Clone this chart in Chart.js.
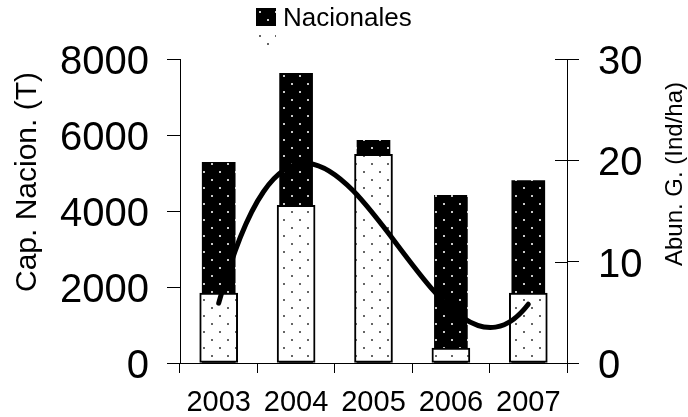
<!DOCTYPE html>
<html>
<head>
<meta charset="utf-8">
<script src="https://cdn.jsdelivr.net/npm/chart.js@4.4.1/dist/chart.umd.min.js"></script>
<style>
  html, body { margin: 0; padding: 0; background: #fff; }
  #wrap { position: relative; width: 688px; height: 417px; }
  #legend { position: absolute; left: 256px; top: 5px; font-family: 'Liberation Sans', Arial, sans-serif; font-size: 26px; color: #000; }
  .item { display: flex; align-items: center; height: 24px; white-space: nowrap; }
  .item canvas { width: 20px; height: 18px; margin-right: 7px; }
</style>
</head>
<body>
<div id="wrap">
  <canvas id="chart" width="688" height="417"></canvas>
  <div id="legend"></div>
</div>
<script>
// values
const years = ['2003', '2004', '2005', '2006', '2007'];
const nacionales = [5280, 7620, 5860, 4410, 4800];
const otros = [1840, 4150, 5490, 390, 1840];
const abundancia = [5.9, 19.6, 14.7, 5.4, 5.8];
const capTicks = [0, 2000, 4000, 6000, 8000];
const abunTicks = [0, 10, 20, 30];

const FONT = "'Liberation Sans', Arial, sans-serif";

// dotted fills like the old excel patterns
function dotTile(bg, dot) {
  const c = document.createElement('canvas');
  c.width = 16; c.height = 16;
  const g = c.getContext('2d');
  g.fillStyle = bg;
  g.fillRect(0, 0, 16, 16);
  g.fillStyle = dot;
  g.fillRect(3, 3, 2, 2);
  g.fillRect(11, 11, 2, 2);
  return c;
}

const ctx = document.getElementById('chart').getContext('2d');
const darkFill = ctx.createPattern(dotTile('#000', '#c8c8c8'), 'repeat');
const lightFill = ctx.createPattern(dotTile('#fff', '#666'), 'repeat');

// legend, two rows, second one has no text
const legendItems = [
  { text: 'Nacionales', tile: dotTile('#000', '#c8c8c8') },
  { text: '', tile: dotTile('#fff', '#666') }
];
const legendEl = document.getElementById('legend');
legendItems.forEach(it => {
  const row = document.createElement('div');
  row.className = 'item';
  const sw = document.createElement('canvas');
  sw.width = 20; sw.height = 18;
  const sg = sw.getContext('2d');
  sg.fillStyle = sg.createPattern(it.tile, 'repeat');
  sg.fillRect(0, 0, 20, 18);
  row.appendChild(sw);
  const t = document.createElement('span');
  t.textContent = it.text;
  row.appendChild(t);
  legendEl.appendChild(row);
});

// least squares polynomial (order 3), same as the excel trendline
function polyFit(ys, order) {
  const n = order + 1;
  const A = [];
  for (let r = 0; r < n; r++) {
    const row = [];
    for (let c = 0; c < n; c++) {
      row.push(ys.reduce((s, _, i) => s + Math.pow(i, r + c), 0));
    }
    row.push(ys.reduce((s, y, i) => s + y * Math.pow(i, r), 0));
    A.push(row);
  }
  for (let k = 0; k < n; k++) {
    let p = k;
    for (let r = k + 1; r < n; r++) if (Math.abs(A[r][k]) > Math.abs(A[p][k])) p = r;
    [A[k], A[p]] = [A[p], A[k]];
    for (let r = 0; r < n; r++) {
      if (r === k) continue;
      const f = A[r][k] / A[k][k];
      for (let c = k; c <= n; c++) A[r][c] -= f * A[k][c];
    }
  }
  return A.map((row, k) => row[n] / row[k]);
}

const trendline = {
  id: 'trendline',
  afterDatasetsDraw(chart) {
    const xs = chart.scales.x;
    const ys = chart.scales.y1;
    const [c0, c1, c2, c3] = polyFit(abundancia, 3);
    const last = abundancia.length - 1;
    const p = u => c0 + c1 * u + c2 * u * u + c3 * u * u * u;
    const dp = u => c1 + 2 * c2 * u + 3 * c3 * u * u;
    // a cubic over [0, last] is exactly one bezier segment
    const y0 = p(0), y3 = p(last);
    const y1v = y0 + dp(0) * last / 3;
    const y2v = y3 - dp(last) * last / 3;
    const xa = xs.getPixelForValue(0), xb = xs.getPixelForValue(last);
    const c = chart.ctx;
    c.save();
    c.strokeStyle = '#000';
    c.lineWidth = 5;
    c.lineCap = 'round';
    c.beginPath();
    c.moveTo(xa, ys.getPixelForValue(y0));
    c.bezierCurveTo(
      xa + (xb - xa) / 3, ys.getPixelForValue(y1v),
      xa + 2 * (xb - xa) / 3, ys.getPixelForValue(y2v),
      xb, ys.getPixelForValue(y3)
    );
    c.stroke();
    c.restore();
  }
};

const axisExtras = {
  id: 'axisExtras',
  afterDraw(chart) {
    const c = chart.ctx;
    const y1 = chart.scales.y1;
    c.save();
    c.strokeStyle = '#000';
    c.lineWidth = 1;
    abunTicks.forEach(v => {
      const py = Math.round(y1.getPixelForValue(v)) + 0.5;
      c.beginPath();
      c.moveTo(y1.left - 12, py);
      c.lineTo(y1.left, py);
      c.stroke();
    });
    c.fillStyle = '#000';
    c.textAlign = 'center';
    c.textBaseline = 'middle';

    c.save();
    c.font = '30px ' + FONT;
    c.translate(28, 182);
    c.rotate(-Math.PI / 2);
    c.fillText('Cap. Nacion. (T)', 0, 0);
    c.restore();

    c.save();
    c.font = '24px ' + FONT;
    c.translate(675, 174);
    c.rotate(-Math.PI / 2);
    c.fillText('Abun. G. (Ind/ha)', 0, 0);
    c.restore();
    c.restore();
  }
};

new Chart(ctx, {
  data: {
    labels: years,
    datasets: [
      {
        // only the trendline of this series shows in the figure
        type: 'line',
        label: 'Abun. G.',
        data: abundancia,
        yAxisID: 'y1',
        showLine: false,
        pointRadius: 0,
        order: 0
      },
      {
        type: 'bar',
        label: '',
        data: otros,
        yAxisID: 'y',
        backgroundColor: lightFill,
        borderColor: '#000',
        borderWidth: 2,
        borderSkipped: false,
        barThickness: 38,
        order: 1
      },
      {
        type: 'bar',
        label: 'Nacionales',
        data: nacionales,
        yAxisID: 'y',
        backgroundColor: darkFill,
        borderWidth: 0,
        barThickness: 33,
        order: 2
      }
    ]
  },
  options: {
    responsive: false,
    animation: false,
    layout: { padding: { top: 59, left: 0, right: 0, bottom: 0 } },
    plugins: {
      legend: { display: false },
      tooltip: { enabled: false }
    },
    scales: {
      x: {
        stacked: true,
        offset: true,
        grid: { drawOnChartArea: false, tickLength: 10, color: '#000', offset: true },
        border: { color: '#000' },
        ticks: { font: { family: FONT, size: 29 }, color: '#000', padding: 13 },
        afterFit: s => { s.height = 54; }
      },
      y: {
        position: 'left',
        min: 0,
        max: 8000,
        stacked: false,
        afterBuildTicks: s => { s.ticks = capTicks.map(v => ({ value: v })); },
        ticks: { font: { family: FONT, size: 40 }, color: '#000', padding: 18, labelOffset: 4, callback: v => String(v) },
        grid: { drawOnChartArea: false, tickLength: 13, color: '#000' },
        border: { color: '#000' },
        afterFit: s => { s.width = 180; }
      },
      y1: {
        position: 'right',
        min: 0,
        max: 30,
        afterBuildTicks: s => { s.ticks = abunTicks.map(v => ({ value: v })); },
        ticks: { font: { family: FONT, size: 40 }, color: '#000', padding: 19, labelOffset: 4, callback: v => String(v) },
        grid: { drawOnChartArea: false, tickLength: 12, color: '#000' },
        border: { color: '#000' },
        afterFit: s => { s.width = 121; }
      }
    }
  },
  plugins: [trendline, axisExtras]
});
</script>
</body>
</html>
